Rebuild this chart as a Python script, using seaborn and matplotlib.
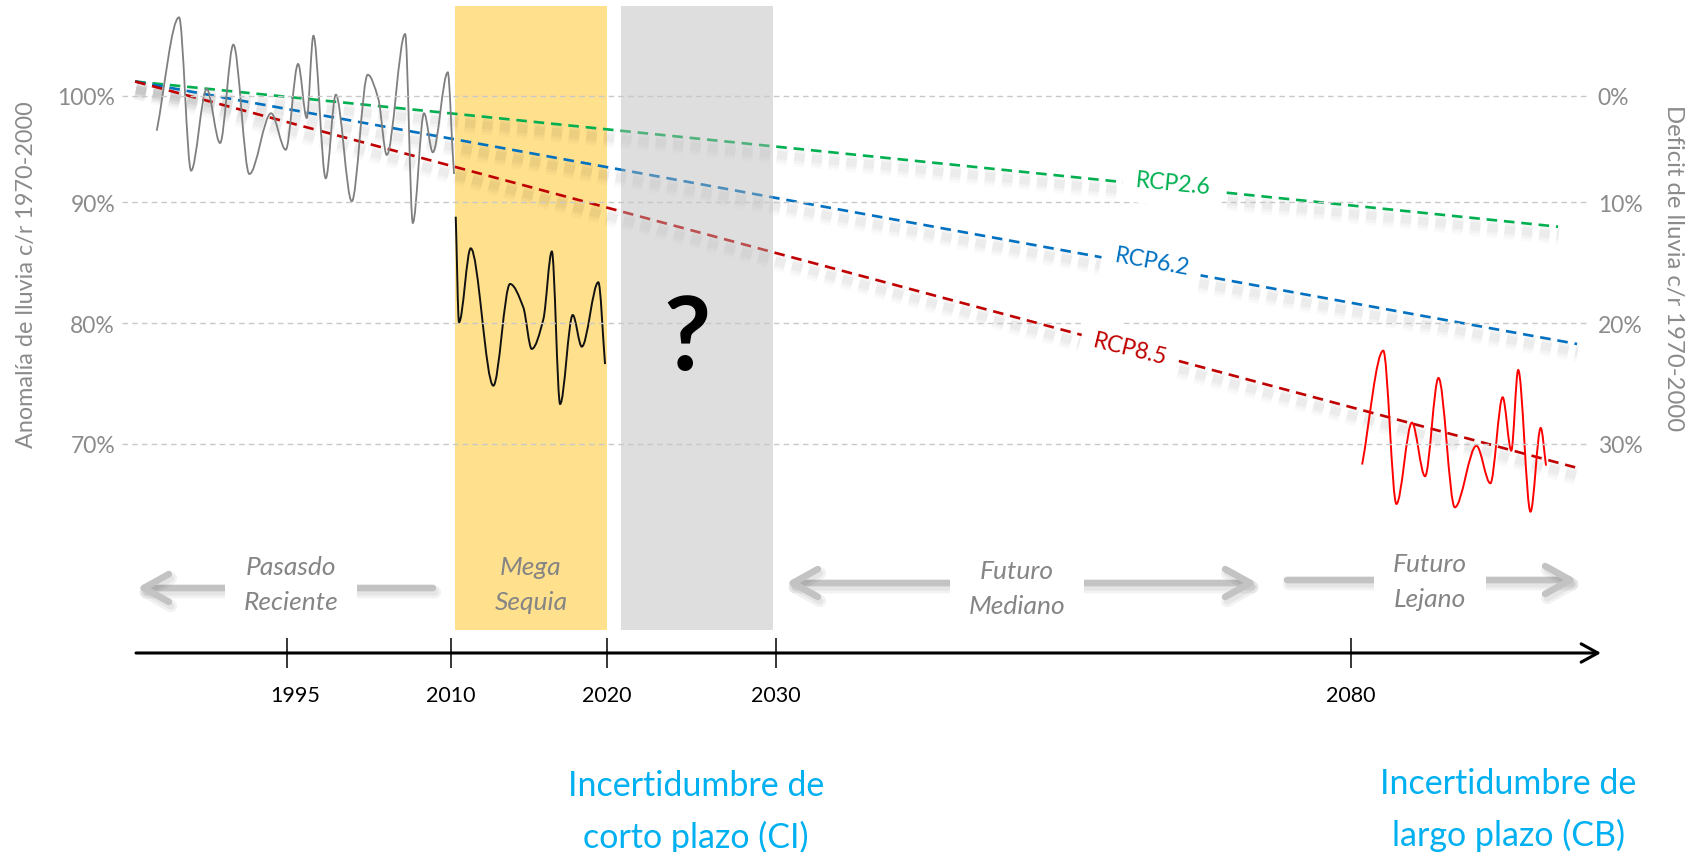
import numpy as np
import matplotlib
matplotlib.use("Agg")
import matplotlib.pyplot as plt
import matplotlib.patheffects as pe
import matplotlib.transforms as mtransforms
from matplotlib.path import Path
from matplotlib.patches import PathPatch
import seaborn as sns

# ---------------- data ----------------
tick_years = [1995, 2010, 2020, 2030, 2080]
tick_labels = ["1995", "2010", "2020", "2030", "2080"]

pct_tick_pos = [98.8, 90, 80, 70]
left_tick_labels = ["100%", "90%", "80%", "70%"]
right_tick_labels = ["0%", "10%", "20%", "30%"]

# recent past rainfall anomaly (gray)
past_years = [1983.08, 1985.12, 1986.22, 1987.65, 1988.87, 1990.09, 1991.55, 1993.54,
              1994.88, 1996.01, 1996.80, 1997.41, 1998.54, 1999.46, 2000.92, 2002.38,
              2003.35, 2004.12, 2005.80, 2006.50, 2007.53, 2008.33, 2009.70, 2010.19]
past_vals = [95.93, 105.31, 92.62, 99.38, 94.91, 103.05, 92.34, 97.37,
             94.35, 101.45, 96.98, 103.79, 91.99, 98.91, 90.08, 100.56,
             98.55, 93.92, 103.93, 88.29, 97.37, 94.14, 100.76, 92.34]

# mega drought (black)
drought_years = [2010.30, 2010.51, 2011.26, 2012.71, 2013.78, 2014.63, 2015.17,
                 2015.92, 2016.46, 2016.99, 2017.80, 2018.38, 2019.44, 2019.87]
drought_vals = [88.81, 80.07, 86.19, 74.82, 83.24, 81.31, 77.86,
                80.34, 85.93, 73.30, 80.67, 78.05, 83.38, 76.61]

# far future (red)
far_years = [2080.96, 2082.80, 2083.94, 2085.29, 2086.43, 2087.60, 2089.02, 2090.90,
             2092.11, 2093.18, 2093.93, 2094.53, 2095.60, 2096.49, 2096.95]
far_vals = [68.29, 77.72, 65.03, 71.76, 67.32, 75.46, 64.75, 69.85,
            66.74, 73.86, 69.44, 76.12, 64.39, 71.32, 68.20]

# scenario trends
rcp26_years = [1981.1, 2010, 2020, 2030, 2080, 2098.0]
rcp26_vals = [100.0, 97.36, 96.04, 94.61, 89.74, 87.98]
rcp62_years = [1981.1, 2010, 2020, 2030, 2080, 2099.65]
rcp62_vals = [100.0, 95.27, 92.91, 90.36, 81.68, 78.27]
rcp85_years = [1981.1, 2010, 2020, 2030, 2080, 2099.48]
rcp85_vals = [100.0, 93.02, 89.56, 85.80, 73.04, 68.06]

mega_span = (2010.26, 2019.98)
unknown_span = (2020.83, 2029.8)

# ---------------- style ----------------
sns.set_theme(style="white")
plt.rcParams["font.family"] = ["Lato", "DejaVu Sans"]

W, H = 1691, 853
fig = plt.figure(figsize=(W / 100, H / 100), dpi=100)


def fx(px):
    return px / W


def fy(py):
    return 1 - py / H


def fpix(x, y):
    return (x, H - y)


AX_L, AX_R, AX_T, AX_B = 122, 1588, 7, 654
ax = fig.add_axes([fx(AX_L), fy(AX_B), (AX_R - AX_L) / W, (AX_B - AX_T) / H])

# schematic (non-uniform) time axis
YK = [1900, 1995, 2010, 2020, 2030, 2080, 2200]
PK = [-751.4, 287, 451, 607, 776, 1351, 2731]


def fwd(x):
    return np.interp(x, YK, PK)


def inv(p):
    return np.interp(p, PK, YK)


ax.set_xscale("function", functions=(fwd, inv))
ax.set_xlim(1979.9, 2100.6)
ax.set_ylim(52.69, 106.25)

rect_bottom = (AX_B - 631) / (AX_B - AX_T)
ax.axvspan(*mega_span, ymin=rect_bottom, ymax=1, facecolor="#FFE08C", lw=0, zorder=0.5)

# scenario lines with soft blurred shadow
shadow = [pe.SimpleLineShadow(offset=(0.5, -6), shadow_color="black", alpha=0.02, linewidth=14),
          pe.SimpleLineShadow(offset=(0.5, -6), shadow_color="black", alpha=0.025, linewidth=10),
          pe.SimpleLineShadow(offset=(0.5, -6), shadow_color="black", alpha=0.03, linewidth=6),
          pe.Normal()]
for yrs, vals, col in [(rcp26_years, rcp26_vals, "#00B050"),
                       (rcp62_years, rcp62_vals, "#0070C0"),
                       (rcp85_years, rcp85_vals, "#C00000")]:
    sns.lineplot(x=yrs, y=vals, ax=ax, color=col, lw=1.9, linestyle=(0, (4, 2.6)),
                 path_effects=shadow, zorder=1.5, legend=False, sort=False, errorbar=None)


def smooth_path(xs, ys):
    xs = np.asarray(xs, float)
    ys = np.asarray(ys, float)
    n = len(xs)
    d = np.diff(ys) / np.diff(xs)
    m = np.zeros(n)
    m[0], m[-1] = d[0], d[-1]
    for i in range(1, n - 1):
        if d[i - 1] * d[i] > 0:
            m[i] = 2.0 / (1.0 / d[i - 1] + 1.0 / d[i])
    verts = [(xs[0], ys[0])]
    codes = [Path.MOVETO]
    for i in range(n - 1):
        h = xs[i + 1] - xs[i]
        verts += [(xs[i] + h / 3, ys[i] + m[i] * h / 3),
                  (xs[i + 1] - h / 3, ys[i + 1] - m[i + 1] * h / 3),
                  (xs[i + 1], ys[i + 1])]
        codes += [Path.CURVE4] * 3
    return Path(verts, codes)


for yrs, vals, col, lw in [(past_years, past_vals, "#7F7F7F", 1.3),
                           (drought_years, drought_vals, "#111111", 1.4),
                           (far_years, far_vals, "#FF0000", 1.4)]:
    ax.add_patch(PathPatch(smooth_path(yrs, vals), facecolor="none", edgecolor=col,
                           lw=lw, zorder=1.6))

# uncertain window (translucent gray over the lines)
ax.axvspan(*unknown_span, ymin=rect_bottom, ymax=1, facecolor="#B6B6B6", alpha=0.44,
           lw=0, zorder=2.2)

ax.set_xlim(1979.9, 2100.6)
ax.set_ylim(52.69, 106.25)

# axes / ticks / grid
ax.set_axisbelow(False)
for s in ax.spines.values():
    s.set_visible(False)
ax.set_xticks(tick_years, tick_labels)
ax.minorticks_off()
ax.tick_params(axis="x", which="major", bottom=True, direction="inout", length=21.6,
               width=1.1, color="black", pad=12, labelsize=15.5, labelcolor="black")
first_lbl = ax.get_xticklabels()[0]
first_lbl.set_transform(first_lbl.get_transform() +
                        mtransforms.ScaledTranslation(0.08, 0, fig.dpi_scale_trans))
ax.set_yticks(pct_tick_pos, left_tick_labels)
ax.tick_params(axis="y", left=False, length=0, pad=5, labelsize=16.5, labelcolor="#8B8B8B")
ax.yaxis.grid(True, color="#C8C8C8", linestyle=(0, (4, 3)), linewidth=1.0)
ax.xaxis.grid(False)
ax.set_xlabel("")
ax.set_ylabel("")

ax2 = ax.twinx()
ax2.set_ylim(ax.get_ylim())
ax2.set_yticks(pct_tick_pos, right_tick_labels)
ax2.tick_params(axis="y", right=False, labelright=True, length=0, pad=7, labelsize=16.5,
                labelcolor="#8B8B8B")
for s in ax2.spines.values():
    s.set_visible(False)
ax2.grid(False)

fig.text(fx(27), fy(275), "Anomalía de lluvia c/r 1970-2000", rotation=90, ha="center",
         va="center", fontsize=16.8, color="#8B8B8B")
fig.text(fx(1673), fy(268), "Deficit de lluvia c/r 1970-2000", rotation=270, ha="center",
         va="center", fontsize=17.2, color="#8B8B8B")

# time line
ax.annotate("", xy=fpix(1601, AX_B), xytext=fpix(136, AX_B), xycoords="figure pixels",
            textcoords="figure pixels", annotation_clip=False,
            arrowprops=dict(arrowstyle="->,head_length=0.6,head_width=0.33", lw=2.2,
                            color="black", mutation_scale=20, shrinkA=0, shrinkB=0))


def gray_arrow(x0, x1, y, style):
    ax.annotate("", xy=fpix(x1, y), xytext=fpix(x0, y), xycoords="figure pixels",
                textcoords="figure pixels", annotation_clip=False,
                arrowprops=dict(arrowstyle=style, color="#C3C3C3", lw=4.8, mutation_scale=20,
                                shrinkA=0, shrinkB=0,
                                path_effects=[pe.SimpleLineShadow(offset=(1.5, -3), shadow_color="black",
                                                                  alpha=0.05, linewidth=9),
                                              pe.SimpleLineShadow(offset=(1.5, -3), shadow_color="black",
                                                                  alpha=0.05, linewidth=5),
                                              pe.Normal()]))


gray_arrow(433, 137, 589, "->,head_length=0.9,head_width=0.5")
gray_arrow(786, 1257, 584, "<->,head_length=0.9,head_width=0.5")
gray_arrow(1287, 1577, 581, "->,head_length=0.9,head_width=0.5")

arrow_txt = dict(fontsize=19, style="italic", color="#858585", ha="center", va="center",
                 linespacing=1.65, zorder=4)
wbox = dict(boxstyle="square,pad=0.7", fc="white", ec="none")
fig.text(fx(291), fy(585), "Pasasdo\nReciente", bbox=wbox, **arrow_txt)
fig.text(fx(531), fy(585), "Mega\nSequia", **arrow_txt)
fig.text(fx(1017), fy(589), "Futuro\nMediano", bbox=wbox, **arrow_txt)
fig.text(fx(1430), fy(582), "Futuro\nLejano", bbox=wbox, **arrow_txt)

# scenario labels
for txt, x, y, rot, col in [("RCP2.6", 1173, 184, -5.8, "#00B050"),
                            ("RCP6.2", 1152, 262, -10.3, "#0070C0"),
                            ("RCP8.5", 1130, 350, -14.0, "#C00000")]:
    fig.text(fx(x), fy(y), txt, rotation=rot, rotation_mode="anchor", ha="center",
             va="center", fontsize=16.5, color=col, zorder=4,
             bbox=dict(boxstyle="square,pad=0.55", fc="white", ec="none"))

fig.text(fx(687), fy(370), "?", fontsize=74, fontweight="bold", ha="center", va="baseline",
         color="black", zorder=5)

blue_txt = dict(fontsize=24.5, color="#00B0F0", fontweight="normal", ha="center", va="center",
                linespacing=1.7)
fig.text(fx(696), fy(812), "Incertidumbre de\ncorto plazo (CI)", **blue_txt)
fig.text(fx(1508), fy(810), "Incertidumbre de\nlargo plazo (CB)", **blue_txt)

fig.savefig("out.png", dpi=100)
